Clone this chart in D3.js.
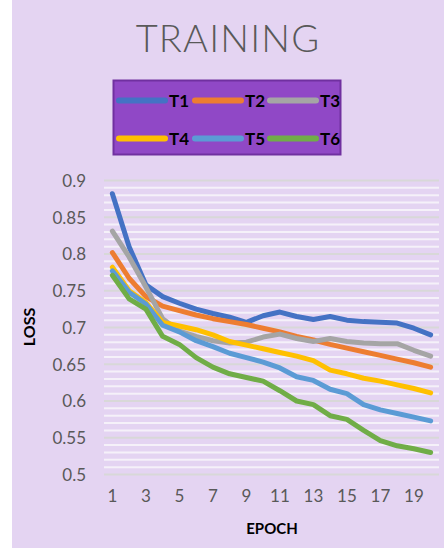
<!DOCTYPE html>
<html>
<head>
<meta charset="utf-8">
<script src="https://cdn.jsdelivr.net/npm/d3@7"></script>
<style>
  html, body { margin: 0; padding: 0; background: #ffffff; }
  svg { display: block; }
</style>
</head>
<body>
<svg id="chart" width="444" height="548"></svg>
<script>
// Training loss per epoch for six runs
const epochs = d3.range(1, 21);
const seriesNames = ["T1", "T2", "T3", "T4", "T5", "T6"];
const seriesColors = ["#4472C4", "#ED7D31", "#A5A5A5", "#FFC000", "#5B9BD5", "#70AD47"];

const t1 = [0.882, 0.810, 0.758, 0.742, 0.733, 0.725, 0.719, 0.714, 0.707, 0.716, 0.721, 0.715, 0.711, 0.715, 0.710, 0.708, 0.707, 0.706, 0.699, 0.690];
const t2 = [0.802, 0.767, 0.742, 0.729, 0.723, 0.717, 0.712, 0.708, 0.704, 0.699, 0.694, 0.688, 0.683, 0.677, 0.672, 0.667, 0.662, 0.657, 0.652, 0.646];
const t3 = [0.831, 0.796, 0.755, 0.712, 0.695, 0.688, 0.682, 0.679, 0.680, 0.687, 0.691, 0.685, 0.681, 0.685, 0.681, 0.679, 0.678, 0.678, 0.669, 0.661];
const t4 = [0.782, 0.750, 0.734, 0.707, 0.702, 0.697, 0.690, 0.681, 0.676, 0.671, 0.666, 0.661, 0.655, 0.642, 0.637, 0.631, 0.627, 0.622, 0.617, 0.611];
const t5 = [0.777, 0.748, 0.732, 0.703, 0.694, 0.682, 0.674, 0.665, 0.659, 0.653, 0.645, 0.633, 0.628, 0.616, 0.610, 0.595, 0.588, 0.583, 0.578, 0.573];
const t6 = [0.771, 0.739, 0.725, 0.688, 0.677, 0.659, 0.646, 0.637, 0.632, 0.627, 0.614, 0.600, 0.595, 0.580, 0.575, 0.560, 0.546, 0.539, 0.535, 0.530];
const seriesValues = [t1, t2, t3, t4, t5, t6];

const yTicks = [0.5, 0.55, 0.6, 0.65, 0.7, 0.75, 0.8, 0.85, 0.9];
const yTickLabels = ["0.5", "0.55", "0.6", "0.65", "0.7", "0.75", "0.8", "0.85", "0.9"];
const xTickLabels = [1, 3, 5, 7, 9, 11, 13, 15, 17, 19];

const W = 444, H = 548;
const svg = d3.select("#chart");
const FONT = "Lato, 'Open Sans', 'DejaVu Sans', sans-serif";

// Lavender chart area
svg.append("rect").attr("x", 12).attr("y", 0).attr("width", W - 12).attr("height", H)
  .attr("fill", "#E4D4F2");

// Scales
const x = d3.scaleBand().domain(epochs).range([104, 439]).padding(0);
const xc = d => x(d) + x.bandwidth() / 2;
const y = d3.scaleLinear().domain([0.5, 0.9]).range([474.5, 180.5]);

// Gridlines: minor every 0.01 (white), major every 0.05 (grey)
const minor = d3.range(50, 91).map(v => v / 100).filter(v => Math.round(v * 100) % 5 !== 0);
const grid = svg.append("g");
grid.selectAll("line.minor").data(minor).join("line")
  .attr("x1", 104).attr("x2", 439)
  .attr("y1", d => y(d)).attr("y2", d => y(d))
  .attr("stroke", "#F5F1F9").attr("stroke-width", 2);
grid.selectAll("line.major").data(yTicks).join("line")
  .attr("x1", 104).attr("x2", 439)
  .attr("y1", d => y(d)).attr("y2", d => y(d))
  .attr("stroke", "#D8D8D8").attr("stroke-width", 2);

// Y axis labels
const yAxis = d3.axisLeft(y).tickValues(yTicks).tickSize(0).tickPadding(0)
  .tickFormat((d, i) => yTickLabels[i]);
const gy = svg.append("g").attr("transform", "translate(86,0)").call(yAxis);
gy.select(".domain").remove();
gy.selectAll("text").attr("font-family", FONT).attr("font-size", 17)
  .attr("fill", "#595959").attr("dy", "0.35em");

// X axis labels
const xAxis = d3.axisBottom(x).tickValues(xTickLabels).tickSize(0).tickPadding(0);
const gx = svg.append("g").attr("transform", "translate(0,490)").call(xAxis);
gx.select(".domain").remove();
gx.selectAll("text").attr("font-family", FONT).attr("font-size", 17)
  .attr("fill", "#595959").attr("dy", "0.71em");

// Axis titles
svg.append("text").attr("x", 272).attr("y", 534).attr("text-anchor", "middle")
  .attr("font-family", FONT).attr("font-size", 15).attr("font-weight", "bold")
  .attr("fill", "#000").text("EPOCH");
svg.append("text").attr("transform", "translate(35,327) rotate(-90)")
  .attr("text-anchor", "middle")
  .attr("font-family", FONT).attr("font-size", 16).attr("font-weight", "bold")
  .attr("fill", "#000").text("LOSS");

// Title
svg.append("text").attr("x", 228).attr("y", 52).attr("text-anchor", "middle")
  .attr("font-family", FONT).attr("font-size", 38).attr("font-weight", 300)
  .attr("letter-spacing", 1.2)
  .attr("fill", "#595959").text("TRAINING");

// Series lines
const line = d3.line().x((d, i) => xc(epochs[i])).y(d => y(d));
svg.append("g").selectAll("path").data(seriesValues).join("path")
  .attr("d", d => line(d))
  .attr("fill", "none")
  .attr("stroke", (d, i) => seriesColors[i])
  .attr("stroke-width", 5)
  .attr("stroke-linecap", "round")
  .attr("stroke-linejoin", "round");

// Legend
const lg = svg.append("g");
lg.append("rect").attr("x", 113.5).attr("y", 80.5).attr("width", 227).attr("height", 74)
  .attr("fill", "#9048C6").attr("stroke", "#7030A0").attr("stroke-width", 2);
const cols = [117, 193, 268];
const rows = [100.5, 138.5];
const items = lg.selectAll("g.item").data(seriesNames).join("g")
  .attr("transform", (d, i) => `translate(${cols[i % 3]},${rows[Math.floor(i / 3)]})`);
items.append("line").attr("x1", 2).attr("x2", 48).attr("y1", 0).attr("y2", 0)
  .attr("stroke", (d, i) => seriesColors[i]).attr("stroke-width", 6)
  .attr("stroke-linecap", "round");
items.append("text").attr("x", 52).attr("y", 0).attr("dy", "0.36em")
  .attr("font-family", FONT).attr("font-size", 17).attr("font-weight", "bold")
  .attr("fill", "#000").text(d => d);
</script>
</body>
</html>
